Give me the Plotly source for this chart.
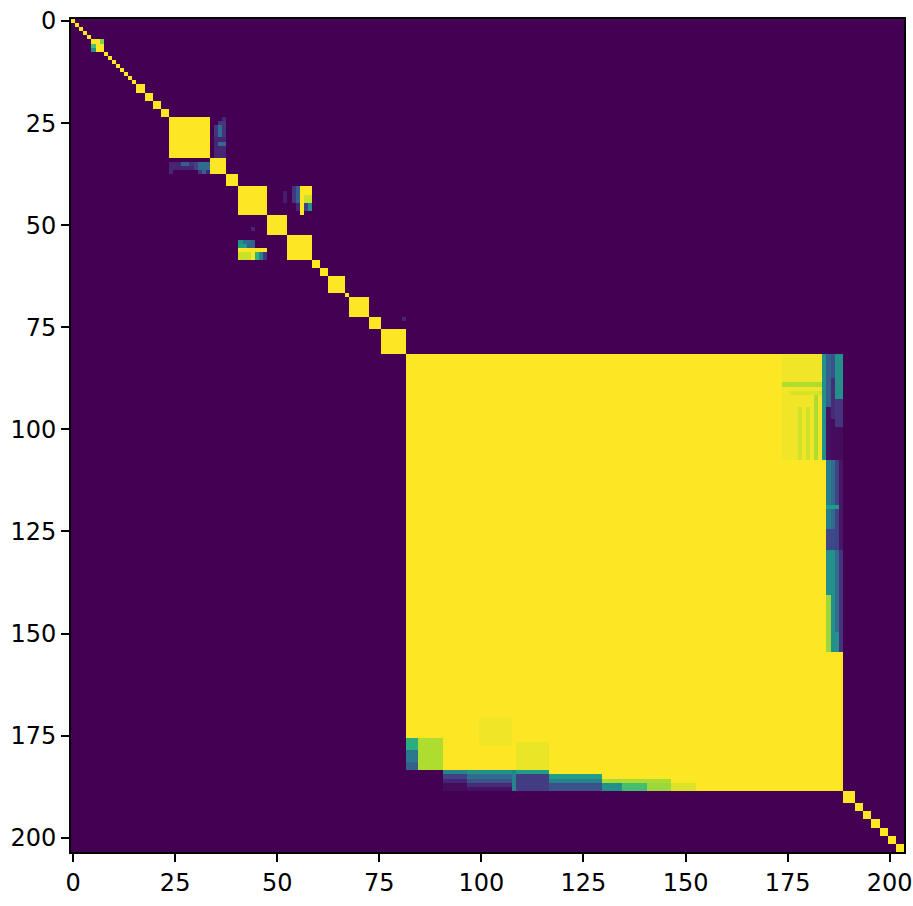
import numpy as np
import plotly.graph_objects as go

# Matrix size (cells)
N = 204

# Diagonal blocks (first and last cell of each), value 1
block_start = [0, 1, 2, 3, 4, 5, 8, 9, 10, 11, 12, 13, 14, 15, 16, 18, 20, 22, 24, 34,
               38, 41, 48, 53, 59, 61, 63, 67, 68, 73, 76, 82, 189, 192, 194, 196, 198, 200, 202]
block_end = [0, 1, 2, 3, 4, 7, 8, 9, 10, 11, 12, 13, 14, 15, 17, 19, 21, 23, 33, 37,
             40, 47, 52, 58, 60, 62, 66, 67, 72, 75, 81, 188, 191, 193, 195, 197, 199, 201, 203]

# Patches: (row0, row1, col0, col1, value)
small_block_patches = [
    (5, 5, 7, 7, 0.8), (6, 6, 5, 5, 0.7), (7, 7, 5, 5, 0.5),
]
cross_24_37 = [
    (24, 24, 37, 37, 0.1), (25, 25, 36, 37, 0.15), (26, 28, 35, 35, 0.15),
    (26, 28, 36, 36, 0.35), (26, 28, 37, 37, 0.15), (29, 29, 35, 37, 0.1),
    (30, 30, 35, 35, 0.1), (30, 30, 36, 37, 0.35), (31, 33, 35, 37, 0.1),
    (35, 35, 24, 26, 0.1), (35, 35, 27, 28, 0.3), (35, 35, 29, 29, 0.15),
    (35, 36, 30, 30, 0.2), (35, 36, 31, 33, 0.35), (36, 36, 24, 29, 0.1),
    (37, 37, 24, 24, 0.1), (37, 37, 31, 31, 0.15), (37, 37, 32, 32, 0.3),
    (37, 37, 33, 33, 0.1),
]
cross_41_58 = [
    (42, 44, 52, 52, 0.08), (41, 44, 54, 54, 0.15), (41, 44, 55, 55, 0.3),
    (45, 46, 55, 55, 0.1), (41, 47, 56, 56, 1.0), (41, 42, 57, 58, 1.0),
    (43, 44, 57, 58, 0.92), (45, 46, 57, 57, 0.2), (45, 46, 58, 58, 0.5),
    (51, 51, 44, 44, 0.1), (54, 54, 41, 41, 0.5), (54, 54, 42, 43, 0.35),
    (54, 54, 44, 44, 0.3), (55, 55, 41, 42, 0.55), (55, 55, 43, 44, 0.3),
    (56, 56, 41, 47, 1.0), (57, 58, 41, 43, 0.92), (57, 58, 44, 44, 1.0),
    (57, 58, 45, 45, 0.65), (57, 58, 46, 46, 0.45), (57, 58, 47, 47, 0.15),
    (73, 73, 81, 81, 0.1),
]
big_block_right_edge = [
    (82, 107, 174, 183, 0.98), (89, 89, 174, 183, 0.88), (91, 91, 176, 183, 0.94),
    (95, 107, 178, 178, 0.93), (95, 107, 180, 180, 0.93), (92, 107, 182, 182, 0.88),
    (82, 107, 184, 184, 0.5),
    (82, 94, 185, 185, 0.3), (95, 107, 185, 185, 0.05),
    (82, 87, 186, 186, 0.25), (88, 97, 186, 186, 0.12), (98, 107, 186, 186, 0.03),
    (82, 92, 187, 188, 0.5), (93, 99, 187, 188, 0.15), (100, 107, 187, 188, 0.03),
    (108, 129, 185, 185, 0.42), (108, 129, 186, 186, 0.35),
    (108, 129, 187, 187, 0.2), (108, 129, 188, 188, 0.06),
    (119, 119, 185, 187, 0.55), (125, 129, 185, 186, 0.22),
    (130, 140, 185, 185, 0.5), (141, 154, 185, 185, 0.85),
    (130, 154, 186, 186, 0.5), (130, 154, 187, 187, 0.35),
    (130, 154, 188, 188, 0.15), (150, 154, 187, 187, 0.5),
]
big_block_bottom_edge = [
    (171, 177, 100, 107, 0.98), (177, 183, 109, 116, 0.97),
    (176, 183, 85, 90, 0.88), (176, 178, 82, 84, 0.62),
    (179, 181, 82, 84, 0.4), (182, 183, 82, 84, 0.3),
    (184, 188, 82, 90, 0.0),
    (184, 184, 91, 96, 0.45), (185, 185, 91, 96, 0.2), (186, 186, 91, 96, 0.1),
    (187, 188, 91, 96, 0.03),
    (184, 184, 97, 107, 0.5), (185, 185, 97, 107, 0.35), (186, 186, 97, 107, 0.25),
    (187, 187, 97, 107, 0.12), (188, 188, 97, 107, 0.05),
    (184, 188, 108, 108, 0.45),
    (184, 184, 109, 116, 0.55), (185, 188, 109, 116, 0.18),
    (185, 185, 117, 129, 0.55), (186, 186, 117, 129, 0.45), (187, 188, 117, 129, 0.25),
    (186, 186, 130, 146, 0.87),
    (187, 188, 130, 134, 0.5), (187, 188, 135, 140, 0.7), (187, 188, 141, 146, 0.85),
    (187, 188, 147, 152, 0.95),
]

tick_vals = [0, 25, 50, 75, 100, 125, 150, 175, 200]

# Build the matrix
z = np.zeros((N, N))
for s, e in zip(block_start, block_end):
    z[s:e + 1, s:e + 1] = 1.0
for patches in [small_block_patches, cross_24_37, cross_41_58,
                big_block_right_edge, big_block_bottom_edge]:
    for r0, r1, c0, c1, v in patches:
        z[r0:r1 + 1, c0:c1 + 1] = v

fig = go.Figure(go.Heatmap(
    z=z, x=np.arange(N), y=np.arange(N),
    colorscale="Viridis", zmin=0, zmax=1, showscale=False, zsmooth=False
))

axis_style = dict(
    tickvals=tick_vals, ticks="outside", ticklen=8, tickwidth=1.8, tickcolor="black",
    showline=True, linecolor="black", linewidth=1.8, mirror=True,
    showgrid=False, zeroline=False, automargin=False,
    tickfont=dict(family="DejaVu Sans", size=24, color="black"),
)

fig.update_layout(
    width=913, height=906,
    margin=dict(l=71, r=9, t=19, b=54, pad=0),
    paper_bgcolor="white", plot_bgcolor="white",
    xaxis=dict(range=[-0.5, N - 0.5], **axis_style),
    yaxis=dict(range=[N - 0.5, -0.5], **axis_style),
)

# page body has a default margin; drop it so the figure sits at the window corner
fig.write_html("out.html", config={"displayModeBar": False},
               post_script="document.body.style.margin='0';")
